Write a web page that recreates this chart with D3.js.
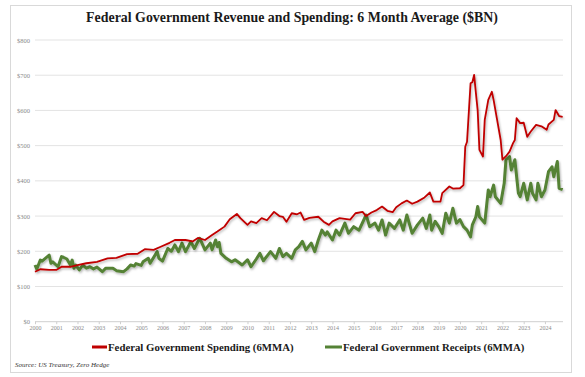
<!DOCTYPE html>
<html>
<head>
<meta charset="utf-8">
<script src="https://cdn.jsdelivr.net/npm/d3@7"></script>
<style>
  html, body { margin: 0; padding: 0; background: #fff; }
  svg { display: block; }
</style>
</head>
<body>
<svg id="chart" width="585" height="377"></svg>
<script>
// ---- Data ----
const title = "Federal Government Revenue and Spending: 6 Month Average ($BN)";
const seriesNames = ["Federal Government Spending (6MMA)", "Federal Government Receipts (6MMA)"];
const sourceText = "Source: US Treasury, Zero Hedge";
const yTickValues = [0, 100, 200, 300, 400, 500, 600, 700, 800];
const xTickYears = d3.range(2000, 2025);

const spendingDates = ["2000-01","2000-04","2000-09","2001-01","2001-04","2001-09","2002-01","2002-06","2002-12","2003-06","2003-11","2004-05","2004-11","2005-03","2005-08","2005-12","2006-05","2006-08","2007-02","2007-06","2007-09","2008-01","2008-05","2008-08","2008-12","2009-03","2009-07","2009-09","2010-01","2010-03","2010-06","2010-09","2010-12","2011-04","2011-07","2011-09","2011-11","2012-02","2012-05","2012-07","2012-09","2012-12","2013-05","2013-08","2013-11","2014-01","2014-05","2014-11","2015-02","2015-06","2015-08","2015-11","2016-02","2016-05","2016-08","2016-11","2017-01","2017-04","2017-07","2017-10","2018-01","2018-05","2018-08","2018-10","2019-02","2019-03","2019-07","2019-09","2020-01","2020-03","2020-04","2020-05","2020-07","2020-08","2020-09","2020-10","2020-11","2020-12","2021-02","2021-03","2021-05","2021-07","2021-08","2021-10","2021-12","2022-01","2022-03","2022-05","2022-07","2022-08","2022-09","2022-11","2023-01","2023-03","2023-05","2023-08","2023-11","2024-02","2024-03","2024-06","2024-07","2024-09","2024-11"];
const spendingValues = [142,149,147,147,156,156,161,166,170,180,181,192,193,206,204,213,224,232,232,228,238,232,246,256,270,291,306,294,275,285,280,294,288,312,300,298,284,308,305,310,289,295,298,284,275,285,294,290,308,312,300,310,317,327,315,311,325,336,344,335,341,353,367,341,341,365,384,378,379,388,497,511,677,680,701,650,601,488,469,573,630,653,630,573,516,460,470,483,507,516,578,564,565,525,540,559,555,545,560,573,601,584,582];

const receiptsDates = ["2000-01","2000-02","2000-04","2000-05","2000-09","2000-10","2000-11","2001-02","2001-04","2001-05","2001-07","2001-09","2001-10","2001-11","2001-12","2002-02","2002-04","2002-06","2002-08","2002-10","2002-12","2003-03","2003-05","2003-09","2003-11","2004-03","2004-05","2004-07","2004-09","2004-10","2005-01","2005-02","2005-05","2005-06","2005-10","2005-11","2006-01","2006-04","2006-06","2006-08","2006-10","2006-12","2007-02","2007-05","2007-07","2007-10","2008-01","2008-04","2008-05","2008-07","2008-08","2008-09","2008-10","2009-01","2009-04","2009-06","2009-10","2010-01","2010-03","2010-06","2010-08","2010-10","2011-02","2011-05","2011-07","2011-09","2011-11","2012-02","2012-04","2012-06","2012-08","2012-10","2013-01","2013-03","2013-05","2013-07","2013-09","2013-10","2014-01","2014-03","2014-05","2014-08","2014-10","2015-01","2015-04","2015-08","2015-10","2016-01","2016-03","2016-05","2016-07","2016-09","2016-12","2017-03","2017-05","2017-07","2017-10","2018-01","2018-04","2018-06","2018-08","2018-09","2018-11","2019-01","2019-03","2019-05","2019-07","2019-09","2019-11","2020-01","2020-03","2020-05","2020-07","2020-08","2020-10","2020-11","2020-12","2021-03","2021-05","2021-06","2021-08","2021-09","2021-12","2022-02","2022-03","2022-05","2022-06","2022-08","2022-10","2022-11","2023-01","2023-03","2023-05","2023-06","2023-08","2023-09","2023-11","2024-01","2024-03","2024-05","2024-06","2024-08","2024-09","2024-11"];
const receiptsValues = [161,149,175,172,189,166,170,156,185,183,178,161,175,152,161,147,161,152,156,150,155,142,152,152,145,142,150,161,158,165,160,170,180,166,199,180,172,208,200,218,199,223,199,227,208,237,204,223,204,232,213,225,194,180,170,176,161,176,156,178,194,173,199,180,208,185,194,180,204,213,228,204,223,199,232,260,246,255,232,260,246,280,251,270,260,303,270,280,260,289,246,280,265,289,260,303,251,275,294,265,303,260,285,270,251,308,280,322,280,290,270,260,241,275,298,327,298,280,374,355,388,355,336,393,460,469,431,460,365,355,393,346,393,365,346,393,355,374,426,440,412,455,379,375];

// ---- Helpers ----
const toYear = s => { const [y, m] = s.split("-").map(Number); return y + (m - 1) / 12; };
const spending = spendingDates.map((d, i) => ({ t: toYear(d), v: spendingValues[i] }));
const receipts = receiptsDates.map((d, i) => ({ t: toYear(d), v: receiptsValues[i] }));

const svg = d3.select("#chart");

// shadow filter
const defs = svg.append("defs");
const f = defs.append("filter").attr("id", "shadow").attr("x", "-5%").attr("y", "-5%").attr("width", "110%").attr("height", "120%");
f.append("feDropShadow").attr("dx", 1).attr("dy", 1.5).attr("stdDeviation", 1).attr("flood-color", "#000").attr("flood-opacity", 0.3);

// outer frame
svg.append("rect").attr("x", 10.5).attr("y", 5.5).attr("width", 561).attr("height", 367)
  .attr("fill", "#fff").attr("stroke", "#d9d9d9").attr("stroke-width", 1);

const x = d3.scaleLinear().domain([2000, 2024.85]).range([35, 563]);
const y = d3.scaleLinear().domain([0, 800]).range([321.7, 40]);

// title
svg.append("text").attr("x", 292).attr("y", 22).attr("text-anchor", "middle")
  .attr("font-family", "'Liberation Serif', 'DejaVu Serif', serif").attr("font-weight", "bold")
  .attr("font-size", 13.9).attr("fill", "#1a1a1a").text(title);

// gridlines
svg.append("g").selectAll("line").data(yTickValues.filter(v => v > 0)).join("line")
  .attr("x1", 35).attr("x2", 563).attr("y1", d => y(d)).attr("y2", d => y(d))
  .attr("stroke", "#e3e3e3").attr("stroke-width", 1);

// y axis labels
const yAxis = d3.axisLeft(y).tickValues(yTickValues).tickSize(0).tickPadding(5)
  .tickFormat(d => "$" + d);
const gy = svg.append("g").attr("transform", "translate(35,0)").call(yAxis);
gy.select(".domain").remove();
gy.selectAll("text").attr("font-family", "'Liberation Serif', serif").attr("font-size", 6.5).attr("fill", "#8a8a8a");

// x axis
const xAxis = d3.axisBottom(x).tickValues(xTickYears).tickSize(2.5).tickPadding(2).tickFormat(d3.format("d"));
const gx = svg.append("g").attr("transform", "translate(0,321.7)").call(xAxis);
gx.select(".domain").attr("stroke", "#cfcfcf").attr("d", `M35,0H563`);
gx.selectAll(".tick line").attr("stroke", "#cfcfcf");
gx.selectAll("text").attr("font-family", "'Liberation Serif', serif").attr("font-size", 6).attr("fill", "#8a8a8a");

// lines
const line = d3.line().x(d => x(d.t)).y(d => y(d.v)).curve(d3.curveLinear);
svg.append("path").datum(receipts).attr("d", line).attr("fill", "none")
  .attr("stroke", "#548235").attr("stroke-width", 3).attr("stroke-linejoin", "round").attr("filter", "url(#shadow)");
svg.append("path").datum(spending).attr("d", line).attr("fill", "none")
  .attr("stroke", "#c00000").attr("stroke-width", 1.8).attr("stroke-linejoin", "round").attr("filter", "url(#shadow)");

// legend
const legend = [
  { name: seriesNames[0], color: "#c00000", x0: 92, x1: 107 },
  { name: seriesNames[1], color: "#548235", x0: 325, x1: 342 }
];
const lg = svg.append("g");
legend.forEach(l => {
  lg.append("line").attr("x1", l.x0).attr("x2", l.x1).attr("y1", 347).attr("y2", 347)
    .attr("stroke", l.color).attr("stroke-width", 3);
  lg.append("text").attr("x", l.x1 + 1).attr("y", 351)
    .attr("font-family", "'Liberation Serif', serif").attr("font-weight", "bold")
    .attr("font-size", 10.8).attr("fill", "#1a1a1a").text(l.name);
});

// source
svg.append("text").attr("x", 15).attr("y", 367)
  .attr("font-family", "'Liberation Serif', serif").attr("font-style", "italic")
  .attr("font-size", 7).attr("fill", "#333").text(sourceText);
</script>
</body>
</html>
